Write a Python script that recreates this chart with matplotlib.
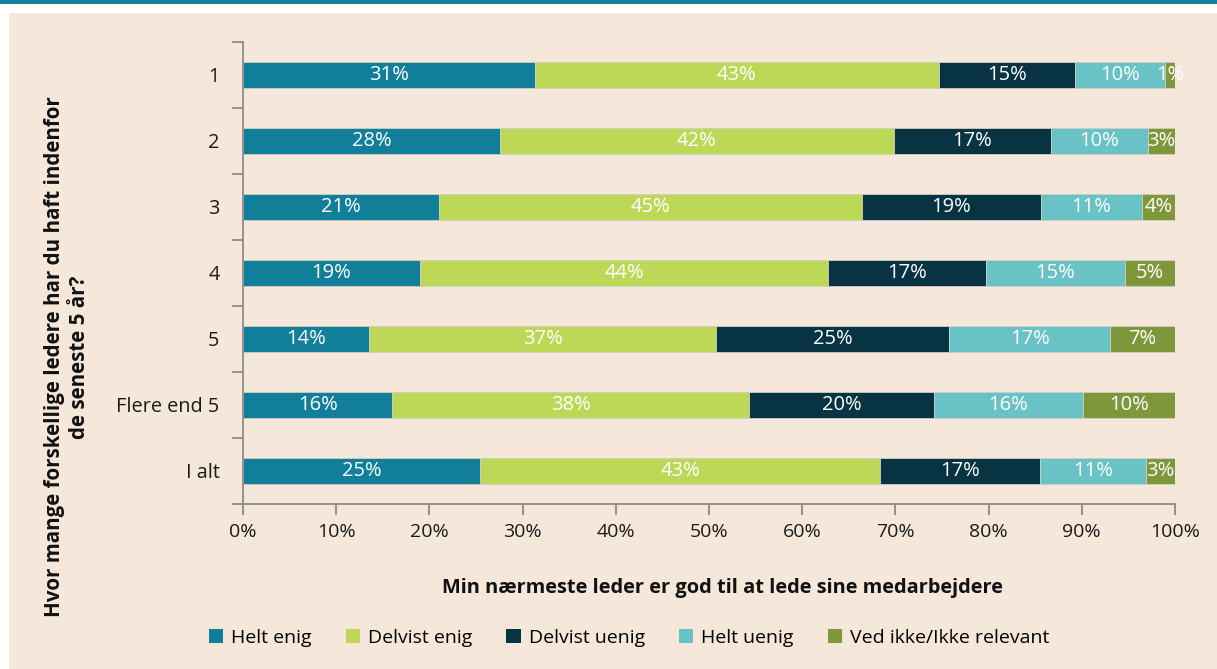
import matplotlib
matplotlib.use("Agg")
import matplotlib.pyplot as plt
import numpy as np
from matplotlib.patches import Rectangle

plt.rcParams['font.family'] = ['Open Sans', 'DejaVu Sans']

categories = ["1", "2", "3", "4", "5", "Flere end 5", "I alt"]
series_names = ["Helt enig", "Delvist enig", "Delvist uenig", "Helt uenig", "Ved ikke/Ikke relevant"]
helt_enig     = [31.3, 27.6, 21.0, 19.0, 13.5, 16.0, 25.4]
delvist_enig  = [43.4, 42.2, 45.4, 43.8, 37.3, 38.3, 43.0]
delvist_uenig = [14.6, 16.9, 19.2, 16.9, 25.0, 19.8, 17.1]
helt_uenig    = [9.6, 10.4, 10.9, 14.9, 17.2, 16.0, 11.4]
ved_ikke      = [1.1, 2.9, 3.5, 5.4, 7.0, 9.9, 3.1]
x_ticks = [0, 10, 20, 30, 40, 50, 60, 70, 80, 90, 100]
x_ticklabels = [f"{v}%" for v in x_ticks]

colors = ["#117F9A", "#BDD857", "#073342", "#69C2C6", "#7F973B"]
bg = "#F5E8DA"

W, H = 1217, 669
fig = plt.figure(figsize=(W / 100, H / 100), dpi=100)
fig.patch.set_facecolor("white")
# beige panel and top band
fig.patches.append(Rectangle((9 / W, 0), 1, 1 - 13 / H, transform=fig.transFigure,
                             facecolor=bg, edgecolor="none", zorder=-10))
fig.patches.append(Rectangle((0, 1 - 4 / H), 1, 4 / H, transform=fig.transFigure,
                             facecolor="#11819C", edgecolor="none", zorder=-10))

ax = fig.add_axes([243 / W, 1 - 504 / H, (1175 - 243) / W, (504 - 42) / H])
ax.set_facecolor("none")
ax.set_zorder(1)

y = np.arange(len(categories))
data = [helt_enig, delvist_enig, delvist_uenig, helt_uenig, ved_ikke]
left = np.zeros(len(categories))
for vals, name, col in zip(data, series_names, colors):
    vals = np.array(vals)
    ax.barh(y, vals, left=left, height=0.40, color=col, label=name,
            edgecolor="#CFCFC4", linewidth=0.6, zorder=2)
    for yi, l, v in zip(y, left, vals):
        ax.text(l + v / 2, yi, f"{int(round(v))}%", ha="center", va="center",
                color="white", fontsize=14.5, zorder=3, clip_on=False)
    left = left + vals

ax.set_xlim(0, 100)
ax.set_ylim(len(categories) - 0.5, -0.5)
ax.set_xticks(x_ticks)
ax.set_xticklabels(x_ticklabels, fontsize=14, color="#1a1a1a")
ax.set_yticks(y)
ax.set_yticklabels(categories, fontsize=14.3, color="#1a1a1a")
ax.set_yticks(np.arange(-0.5, len(categories) + 0.5, 1), minor=True)
ax.tick_params(axis="y", which="major", length=0, pad=17)
ax.tick_params(axis="y", which="minor", length=8, width=1.3, color="#8c8c8c")
ax.tick_params(axis="x", which="major", length=8, width=1.3, color="#8c8c8c", pad=6)

for s in ["top", "right"]:
    ax.spines[s].set_visible(False)
for s in ["left", "bottom"]:
    ax.spines[s].set_color("#8c8c8c")
    ax.spines[s].set_linewidth(1.3)

ax.set_xlabel("Min nærmeste leder er god til at lede sine medarbejdere",
              fontsize=14.4, fontweight="bold", labelpad=26, color="#111111")
ax.xaxis.label.set_x((722 - 243) / (1175 - 243))
fig.text(67 / W, 1 - 357 / H,
         "Hvor mange forskellige ledere har du haft indenfor\nde seneste 5 år?",
         rotation=90, ha="center", va="center", fontsize=14.8, fontweight="bold",
         color="#111111", linespacing=1.2)

handles, labels = ax.get_legend_handles_labels()
leg = fig.legend(handles, labels, loc="center", bbox_to_anchor=(629 / W, 1 - 638 / H),
                 ncol=5, frameon=False, fontsize=14, handlelength=0.75, handleheight=0.75,
                 handletextpad=0.4, columnspacing=1.75)
for h in leg.legend_handles:
    h.set_edgecolor("none")

fig.savefig("out.png", dpi=100, facecolor=fig.get_facecolor())
